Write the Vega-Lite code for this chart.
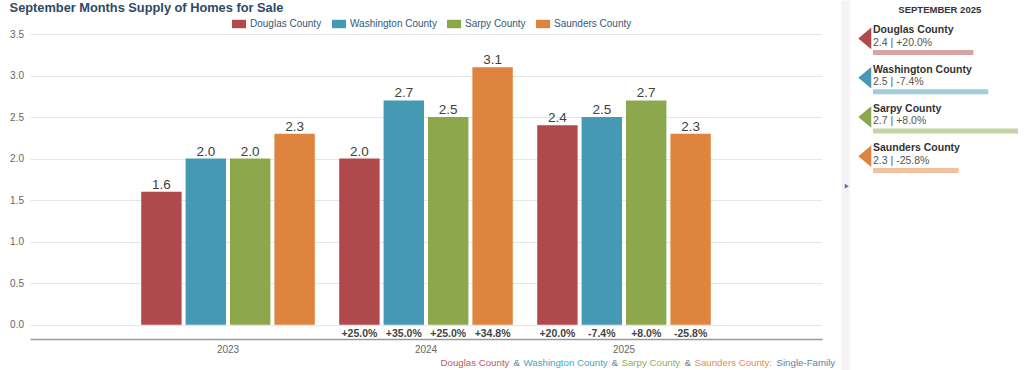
{
  "$schema": "https://vega.github.io/schema/vega-lite/v6.json",
  "padding": {"left": 9, "top": 0, "right": 0, "bottom": 0},
  "config": {
    "font": "Liberation Sans",
    "view": {"stroke": null}
  },
  "datasets": {
    "supply": [
      {"year": "2023", "county": "Douglas County", "value": 1.6, "pct": null},
      {"year": "2023", "county": "Washington County", "value": 2.0, "pct": null},
      {"year": "2023", "county": "Sarpy County", "value": 2.0, "pct": null},
      {"year": "2023", "county": "Saunders County", "value": 2.3, "pct": null},
      {"year": "2024", "county": "Douglas County", "value": 2.0, "pct": "+25.0%"},
      {"year": "2024", "county": "Washington County", "value": 2.7, "pct": "+35.0%"},
      {"year": "2024", "county": "Sarpy County", "value": 2.5, "pct": "+25.0%"},
      {"year": "2024", "county": "Saunders County", "value": 3.1, "pct": "+34.8%"},
      {"year": "2025", "county": "Douglas County", "value": 2.4, "pct": "+20.0%"},
      {"year": "2025", "county": "Washington County", "value": 2.5, "pct": "-7.4%"},
      {"year": "2025", "county": "Sarpy County", "value": 2.7, "pct": "+8.0%"},
      {"year": "2025", "county": "Saunders County", "value": 2.3, "pct": "-25.8%"}
    ]
  },
  "spacing": 5,
  "resolve": {"scale": {"color": "independent"}},
  "hconcat": [
    {
      "spacing": 3,
      "vconcat": [
        {
          "width": 792,
          "height": 305,
          "title": {"text": "September Months Supply of Homes for Sale", "anchor": "start", "frame": "bounds", "fontSize": 12.8, "fontWeight": "bold", "color": "#2c4a68", "offset": 14},
          "data": {"name": "supply"},
          "encoding": {
            "x": {"field": "year", "type": "nominal", "scale": {"paddingInner": 0, "paddingOuter": 0.5},
                  "axis": {"title": null, "labelAngle": 0, "ticks": false, "domainColor": "#999999", "domainWidth": 1.5, "labelPadding": 5, "labelFontSize": 10, "labelColor": "#666666"}},
            "xOffset": {"field": "county", "type": "nominal", "sort": ["Douglas County", "Washington County", "Sarpy County", "Saunders County"], "scale": {"paddingInner": 0.09, "paddingOuter": 0.275}}
          },
          "layer": [
            {
              "mark": {"type": "bar"},
              "encoding": {
                "y": {"field": "value", "type": "quantitative", "scale": {"domain": [-0.172, 3.5], "nice": false, "zero": false},
                      "axis": {"title": null, "values": [0, 0.5, 1, 1.5, 2, 2.5, 3, 3.5], "format": ".1f", "domain": false, "ticks": false, "labelPadding": 6.5, "labelFontSize": 10, "labelColor": "#666666", "gridColor": "#e6e6e6"}},
                "y2": {"datum": 0},
                "color": {"field": "county", "type": "nominal",
                          "scale": {"domain": ["Douglas County", "Washington County", "Sarpy County", "Saunders County"], "range": ["#b0494b", "#4599b3", "#8ca74c", "#df843f"]},
                          "legend": {"orient": "none", "legendX": 202, "legendY": -17, "direction": "horizontal", "title": null, "symbolType": "M-1,-0.6H1V0.6H-1Z", "symbolSize": 196, "symbolStrokeWidth": 0, "symbolOpacity": 1, "labelFontSize": 10, "labelColor": "#34577a", "labelOffset": 4, "columnPadding": 10}}
              }
            },
            {
              "mark": {"type": "text", "baseline": "alphabetic", "dy": -3, "fontSize": 13.5, "color": "#404040"},
              "encoding": {
                "y": {"field": "value", "type": "quantitative", "scale": {"domain": [-0.172, 3.5], "nice": false, "zero": false}},
                "text": {"field": "value", "type": "quantitative", "format": ".1f"}
              }
            },
            {
              "transform": [{"filter": "datum.pct != null"}],
              "mark": {"type": "text", "baseline": "middle", "fontSize": 10.5, "fontWeight": "bold", "color": "#444444"},
              "encoding": {
                "y": {"datum": -0.108, "type": "quantitative", "scale": {"domain": [-0.172, 3.5], "nice": false, "zero": false}},
                "text": {"field": "pct", "type": "nominal"}
              }
            }
          ]
        },
        {
          "spacing": 3,
          "hconcat": [
            {"width": 407, "height": 1, "data": {"values": [{"t": ""}]}, "mark": {"type": "text", "align": "left", "baseline": "middle", "fontSize": 9.7}, "encoding": {"text": {"field": "t", "type": "nominal"}}},
            {"width": 1, "height": 1, "data": {"values": [{"t": "Douglas County"}]}, "mark": {"type": "text", "align": "left", "baseline": "middle", "fontSize": 9.7, "color": "#c0575b"}, "encoding": {"text": {"field": "t", "type": "nominal"}}},
            {"width": 1, "height": 1, "data": {"values": [{"t": "&"}]}, "mark": {"type": "text", "align": "left", "baseline": "middle", "fontSize": 9.7, "color": "#5f7fa0"}, "encoding": {"text": {"field": "t", "type": "nominal"}}},
            {"width": 1, "height": 1, "data": {"values": [{"t": "Washington County"}]}, "mark": {"type": "text", "align": "left", "baseline": "middle", "fontSize": 9.7, "color": "#4ba2c6"}, "encoding": {"text": {"field": "t", "type": "nominal"}}},
            {"width": 1, "height": 1, "data": {"values": [{"t": "&"}]}, "mark": {"type": "text", "align": "left", "baseline": "middle", "fontSize": 9.7, "color": "#5f7fa0"}, "encoding": {"text": {"field": "t", "type": "nominal"}}},
            {"width": 1, "height": 1, "data": {"values": [{"t": "Sarpy County"}]}, "mark": {"type": "text", "align": "left", "baseline": "middle", "fontSize": 9.7, "color": "#92ae52"}, "encoding": {"text": {"field": "t", "type": "nominal"}}},
            {"width": 1, "height": 1, "data": {"values": [{"t": "&"}]}, "mark": {"type": "text", "align": "left", "baseline": "middle", "fontSize": 9.7, "color": "#5f7fa0"}, "encoding": {"text": {"field": "t", "type": "nominal"}}},
            {"width": 1, "height": 1, "data": {"values": [{"t": "Saunders County:"}]}, "mark": {"type": "text", "align": "left", "baseline": "middle", "fontSize": 9.7, "color": "#e78a4e"}, "encoding": {"text": {"field": "t", "type": "nominal"}}},
            {"width": 1, "height": 1, "data": {"values": [{"t": "Single-Family"}]}, "mark": {"type": "text", "align": "left", "baseline": "middle", "fontSize": 9.7, "color": "#5f7fa0"}, "encoding": {"text": {"field": "t", "type": "nominal"}}}
          ]
        }
      ]
    },
    {
      "width": 145,
      "height": 157,
      "resolve": {"scale": {"y": "independent"}},
      "layer": [
        {
          "data": {"values": [{"heading": "SEPTEMBER 2025"}]},
          "layer": [
            {
              "mark": {"type": "rect", "color": "#f6f2f5"},
              "encoding": {
                "x": {"datum": 1.5118, "type": "quantitative", "scale": {"domain": [1.725, 2.7], "zero": false, "nice": false}, "axis": null},
                "x2": {"datum": 1.5723},
                "y": {"datum": 0, "type": "quantitative", "scale": {"domain": [0, 1], "range": [-33.3, 336.7], "zero": false, "nice": false}, "axis": null},
                "y2": {"datum": 1}
              }
            },
            {
              "mark": {"type": "point", "shape": "triangle-right", "filled": true, "size": 22, "color": "#3b78ae", "opacity": 1},
              "encoding": {
                "x": {"datum": 1.5488, "type": "quantitative", "scale": {"domain": [1.725, 2.7], "zero": false, "nice": false}, "axis": null},
                "y": {"datum": 0.5014, "type": "quantitative", "scale": {"domain": [0, 1], "range": [-33.3, 336.7], "zero": false, "nice": false}, "axis": null}
              }
            },
            {
              "mark": {"type": "text", "fontSize": 9.5, "fontWeight": "bold", "color": "#333333", "baseline": "middle", "align": "center"},
              "encoding": {
                "x": {"datum": 2.1742, "type": "quantitative", "scale": {"domain": [1.725, 2.7], "zero": false, "nice": false}, "axis": null},
                "y": {"datum": 0.0262, "type": "quantitative", "scale": {"domain": [0, 1], "range": [-33.3, 336.7], "zero": false, "nice": false}, "axis": null},
                "text": {"field": "heading", "type": "nominal"}
              }
            }
          ]
        },
        {
          "data": {"name": "supply"},
          "transform": [{"filter": "datum.year == '2025'"}],
          "encoding": {
            "y": {"field": "county", "type": "nominal", "sort": ["Douglas County", "Washington County", "Sarpy County", "Saunders County"],
                  "scale": {"domain": ["Douglas County", "Washington County", "Sarpy County", "Saunders County"], "range": [-15.25, 141.95], "paddingInner": 0, "paddingOuter": 0}, "axis": null}
          },
          "layer": [
            {
              "mark": {"type": "point", "shape": "M0,0L1.2,-1L1.2,1Z", "filled": true, "size": 466, "opacity": 1, "strokeWidth": 0},
              "encoding": {
                "x": {"datum": 1.6261, "type": "quantitative", "scale": {"domain": [1.725, 2.7], "zero": false, "nice": false}, "axis": null},
                "color": {"field": "county", "type": "nominal", "scale": {"domain": ["Douglas County", "Washington County", "Sarpy County", "Saunders County"], "range": ["#b0494b", "#4599b3", "#8ca74c", "#df843f"]}, "legend": null}
              }
            },
            {
              "mark": {"type": "text", "align": "left", "baseline": "middle", "dy": -8.2, "fontSize": 10.5, "fontWeight": "bold", "color": "#333333"},
              "encoding": {
                "x": {"datum": 1.725, "type": "quantitative", "scale": {"domain": [1.725, 2.7], "zero": false, "nice": false}, "axis": null},
                "text": {"field": "county", "type": "nominal"}
              }
            },
            {
              "mark": {"type": "text", "align": "left", "baseline": "middle", "dy": 4.3, "fontSize": 10.5, "color": "#555555", "text": {"expr": "format(datum.value, '.1f') + ' | ' + datum.pct"}},
              "encoding": {
                "x": {"datum": 1.725, "type": "quantitative", "scale": {"domain": [1.725, 2.7], "zero": false, "nice": false}, "axis": null}
              }
            },
            {
              "mark": {"type": "bar", "height": 5, "yOffset": 14.1, "opacity": 0.5},
              "encoding": {
                "x": {"field": "value", "type": "quantitative", "scale": {"domain": [1.725, 2.7], "zero": false, "nice": false}, "axis": null},
                "x2": {"datum": 1.725},
                "color": {"field": "county", "type": "nominal", "scale": {"domain": ["Douglas County", "Washington County", "Sarpy County", "Saunders County"], "range": ["#b0494b", "#4599b3", "#8ca74c", "#df843f"]}, "legend": null}
              }
            }
          ]
        }
      ]
    }
  ]
}
